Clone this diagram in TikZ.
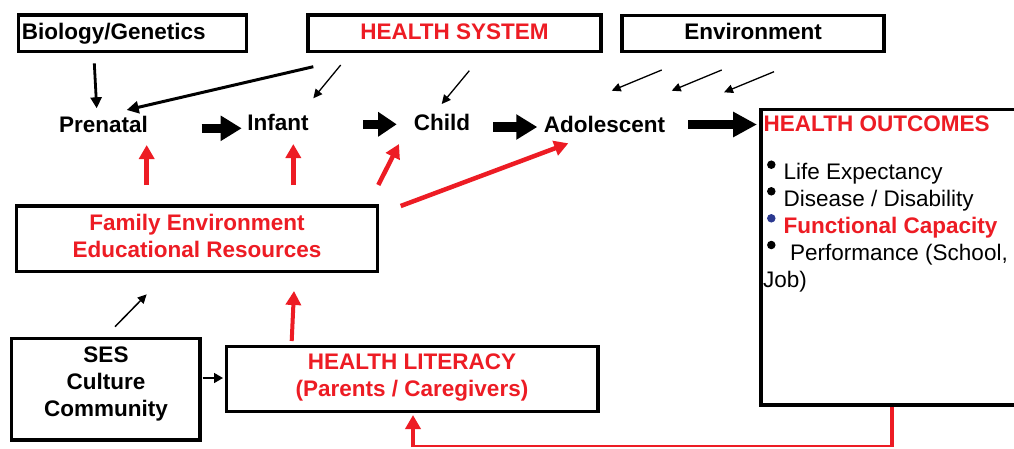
\documentclass[tikz,border=0pt]{standalone}
\usepackage{fontspec}
\setmainfont{Liberation Sans}
\usetikzlibrary{arrows.meta}
\definecolor{hred}{RGB}{237,28,36}
\definecolor{hblue}{RGB}{43,57,144}
\begin{document}
\begin{tikzpicture}[x=1pt,y=-1pt,
  box/.style={draw=black, line width=3.5pt, rectangle, inner sep=0pt},
  bf/.style={font=\fontsize{22.5}{27}\selectfont\bfseries, inner sep=0pt, align=center},
  rg/.style={font=\fontsize{22.5}{27}\selectfont, inner sep=0pt},
  bigarr/.style={line width=9.5pt, -{Triangle[length=21pt,width=24pt]}},
  thinarr/.style={line width=1.3pt, -{Triangle[length=9pt,width=8.5pt]}},
  medarr/.style={line width=2.8pt, -{Triangle[length=11pt,width=11pt]}},
  redarr/.style={draw=hred, line width=4.5pt, -{Triangle[length=14pt,width=15pt]}},
  redline/.style={draw=hred, line cap=butt},
  dot/.style={circle, inner sep=0pt, minimum size=8.5pt, fill=black}
]
\useasboundingbox (0,0) rectangle (1014,448);
\fill[white] (0,0) rectangle (1014,448);
\clip (0,0) rectangle (1014,448);

% boxes
\node[box, minimum width=228pt, minimum height=36.5pt] (bio) at (132.5,33.25) {};
\node[box, minimum width=293pt, minimum height=36.5pt] (hs) at (454.5,33.25) {};
\node[box, minimum width=262pt, minimum height=36pt] (env) at (753,33.5) {};
\node[box, minimum width=361pt, minimum height=65.5pt] (fam) at (197,238.75) {};
\node[box, minimum width=188.5pt, minimum height=101.7pt] (ses) at (105.75,389.2) {};
\node[box, minimum width=371.5pt, minimum height=65pt] (hl) at (412.25,379) {};
\node[box, anchor=north west, minimum width=300pt, minimum height=295.6pt] (ho) at (759,107.7) {};

% texts
\node[bf, anchor=base west] (biot) at (21.7,39.3) {Biology/Genetics};
\node[bf, anchor=base, text=hred] (hst) at (454.5,39.3) {HEALTH SYSTEM};
\node[bf, anchor=base] (envt) at (753,39.3) {Environment};
\node[bf, anchor=base] (pre) at (103.5,132.7) {Prenatal};
\node[bf, anchor=base] (inf) at (278,130) {Infant};
\node[bf, anchor=base] (chi) at (442,130.7) {Child};
\node[bf, anchor=base] (ado) at (604.5,132.7) {Adolescent};
\node[bf, text=hred] (famt) at (197,235.6) {Family Environment\\Educational Resources};
\node[bf] (sest) at (106,384) {SES\\Culture\\Community};
\node[bf, text=hred] (hlt) at (412,377.7) {HEALTH LITERACY\\(Parents / Caregivers)};
\node[bf, anchor=base west, text=hred] (hot) at (763.5,131.7) {HEALTH OUTCOMES};
\node[rg, anchor=base west] (l1) at (783.5,179.3) {Life Expectancy};
\node[rg, anchor=base west] (l2) at (783.5,206) {Disease / Disability};
\node[bf, anchor=base west, text=hred] (l3) at (783.5,233.3) {Functional Capacity};
\node[rg, anchor=base west] (l4) at (790,260) {Performance (School,};
\node[rg, anchor=base west] (l5) at (763,287.3) {Job)};
\node[dot] (d1) at (771.3,164.7) {};
\node[dot] (d2) at (771.3,191.3) {};
\node[dot, fill=hblue] (d3) at (771.3,218.3) {};
\node[dot] (d4) at (771.3,245) {};

% coordinates for arrow ends
\coordinate (bioA) at (94.3,63.3);   \coordinate (preA) at (96.7,108.3);
\coordinate (hsA) at (313.3,66.7);   \coordinate (preB) at (126.7,110);
\coordinate (hsB) at (340.7,65);     \coordinate (infA) at (313.3,98.3);
\coordinate (hsC) at (469.3,70.7);   \coordinate (chiA) at (441.7,104);
\coordinate (envA) at (661.7,70);    \coordinate (adoA) at (611.7,90.7);
\coordinate (envB) at (721.7,70);    \coordinate (adoB) at (671.7,90.7);
\coordinate (envC) at (774,71.7);    \coordinate (adoC) at (724,92.3);
\coordinate (p1) at (201.7,128.3);   \coordinate (p2) at (241.7,128.3);
\coordinate (i1) at (363.3,124.3);   \coordinate (i2) at (396.7,124.3);
\coordinate (c1) at (493.3,127);     \coordinate (c2) at (537.3,127);
\coordinate (a1) at (688.3,124.5);   \coordinate (a2) at (757,124.5);
\coordinate (famA) at (146.7,185);   \coordinate (preR) at (146.7,145);
\coordinate (famB) at (293.3,185);   \coordinate (infR) at (293.3,144);
\coordinate (famC) at (378.3,185);   \coordinate (chiR) at (399,144);
\coordinate (famD) at (400.7,206);   \coordinate (adoR) at (568.3,143.3);
\coordinate (hlA) at (291.7,341);    \coordinate (famE) at (294,291);
\coordinate (sesA) at (115,326.7);   \coordinate (famF) at (146.7,294.3);
\coordinate (sesB) at (202.7,378);   \coordinate (hlB) at (223,378);
\coordinate (fb1) at (892,446);      \coordinate (fb2) at (413,446);
\coordinate (hlR) at (413,415);

% black arrows
\draw[medarr] (bioA) -- (preA);
\draw[medarr, line width=3pt, -{Triangle[length=12pt,width=12pt]}] (hsA) -- (preB);
\draw[thinarr] (hsB) -- (infA);
\draw[thinarr] (hsC) -- (chiA);
\draw[thinarr] (envA) -- (adoA);
\draw[thinarr] (envB) -- (adoB);
\draw[thinarr] (envC) -- (adoC);
\draw[thinarr, line width=1.5pt] (sesA) -- (famF);
\draw[line width=1.7pt, -{Triangle[length=9pt,width=10pt]}] (sesB) -- (hlB);

% big arrows
\draw[bigarr] (p1) -- (p2);
\draw[bigarr, -{Triangle[length=18.5pt,width=23.5pt]}] (i1) -- (i2);
\draw[bigarr] (c1) -- (c2);
\draw[bigarr, -{Triangle[length=24pt,width=24pt]}] (a1) -- (a2);

% red arrows
\draw[redarr] (famA) -- (preR);
\draw[redarr] (famB) -- (infR);
\draw[redarr] (famC) -- (chiR);
\draw[redarr] (famD) -- (adoR);
\draw[redarr, line width=4pt] (hlA) -- (famE);

% feedback
\draw[redline, line width=4pt] (ho.south -| fb1) -- ([yshift=-1.15pt]fb1);
\draw[redline, line width=2.3pt] (fb1) -- (fb2);
\draw[redarr, line width=4.5pt] ([yshift=-1.15pt]fb2) -- (hlR);
\end{tikzpicture}
\end{document}
